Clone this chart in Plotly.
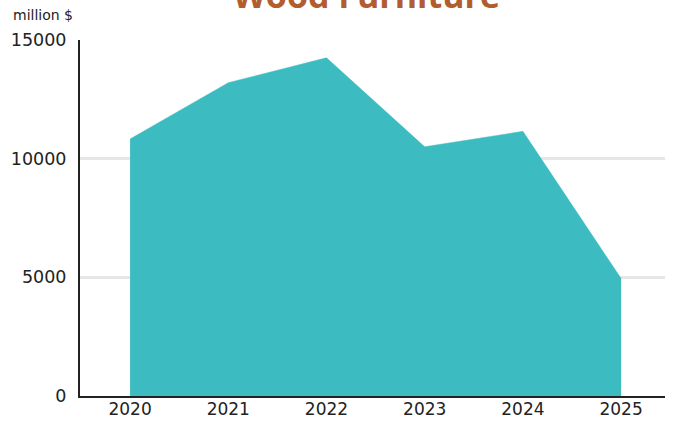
import plotly.graph_objects as go

years = [2020, 2021, 2022, 2023, 2024, 2025]
values = [10830, 13200, 14250, 10500, 11150, 4950]
y_ticks = [0, 5000, 10000, 15000]

fig = go.Figure()
fig.add_trace(go.Scatter(
    x=years, y=values, mode="lines", fill="tozeroy",
    line=dict(color="#3cbcc1", width=0.5),
    fillcolor="#3cbcc1", hoverinfo="x+y",
))

fig.update_layout(
    width=673, height=421,
    margin=dict(l=80, r=8, t=40, b=25),
    plot_bgcolor="white", paper_bgcolor="white",
    showlegend=False,
    font=dict(family="DejaVu Sans", color="#222222"),
    xaxis=dict(
        range=[2019.49, 2025.447], tickvals=years, ticktext=[str(y) for y in years],
        showgrid=False, zeroline=False, showline=True, linecolor="#222222", linewidth=2,
        ticks="", tickfont=dict(size=17), automargin=False, ticklabelstandoff=-3,
    ),
    yaxis=dict(
        range=[0, 15000], tickvals=y_ticks, ticktext=[str(v) for v in y_ticks],
        showgrid=True, gridcolor="#e6e6e9", gridwidth=3, zeroline=False,
        showline=True, linecolor="#222222", linewidth=2, ticks="",
        tickfont=dict(size=17.5), automargin=False, ticklabelstandoff=8,
    ),
    annotations=[
        dict(text="<b>Wood Furniture</b>", x=0.49, y=1.127, xref="paper", yref="paper",
             xanchor="center", yanchor="middle", showarrow=False,
             font=dict(family="Open Sans", size=34, color="#b35c2e")),
        dict(text="million $", x=-0.118, y=1.070, xref="paper", yref="paper",
             xanchor="left", yanchor="middle", showarrow=False,
             font=dict(family="DejaVu Sans", size=14, color="#222222")),
    ],
)

fig.write_html("out.html")
